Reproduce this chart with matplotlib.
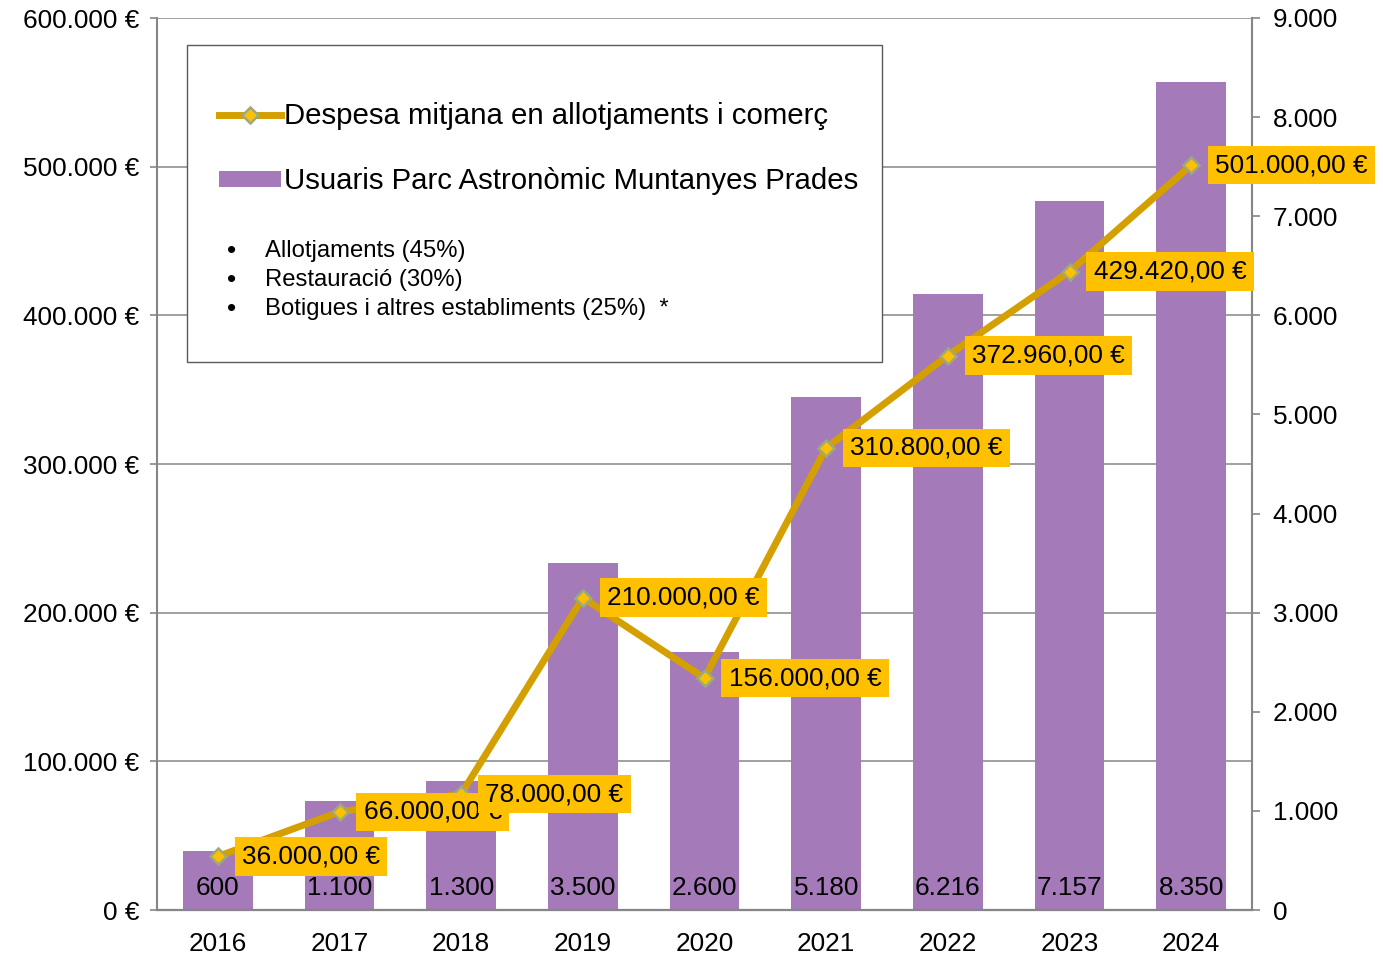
import numpy as np
import matplotlib
matplotlib.use("Agg")
import matplotlib.pyplot as plt
from matplotlib.patches import Rectangle
from matplotlib.ticker import FuncFormatter, MultipleLocator

# ── Dades ─────────────────────────────────────────────
anys = ["2016", "2017", "2018", "2019", "2020", "2021", "2022", "2023", "2024"]
usuaris = [600, 1100, 1300, 3500, 2600, 5180, 6216, 7157, 8350]
despesa = [36000, 66000, 78000, 210000, 156000, 310800, 372960, 429420, 501000]
nom_linia = "Despesa mitjana en allotjaments i comerç"
nom_barres = "Usuaris Parc Astronòmic Muntanyes Prades"
punts = ["Allotjaments (45%)", "Restauració (30%)", "Botigues i altres establiments (25%)  *"]

# ── Estil ─────────────────────────────────────────────
plt.rcParams["font.family"] = ["Liberation Sans", "DejaVu Sans"]
GRIS = "#868686"
LILA = "#A47AB9"
OR_LINIA = "#D4A000"
GROC = "#FFC000"
VORA_MARCA = "#9CAA7C"
MIDA = 18.8


def _milers(v):
    return f"{int(round(v)):,}".replace(",", ".")


def _euros2(v):
    s = f"{v:,.2f}"
    return s.replace(",", "X").replace(".", ",").replace("X", ".") + " €"


W, H = 1383, 959
fig = plt.figure(figsize=(W / 100, H / 100), dpi=100)
fig.patch.set_facecolor("white")

ax = fig.add_axes([157 / W, 49 / H, 1095 / W, 892 / H])
ax2 = ax.twinx()
ax3 = ax.twinx()

x = np.arange(len(anys))

# eix esquerre (euros) amb la graella
ax.set_ylim(0, 600000)
ax.set_xlim(-0.5, len(anys) - 0.5)
ax.yaxis.set_major_locator(MultipleLocator(100000))
ax.yaxis.set_major_formatter(FuncFormatter(lambda v, p: _milers(v) + " €"))
ax.grid(axis="y", color=GRIS, linewidth=1.1)
ax.set_axisbelow(True)
ax.set_xticks(x)
ax.set_xticklabels(anys)
ax.tick_params(axis="x", length=0, pad=16, labelsize=MIDA)
ax.tick_params(axis="y", length=5, width=1.2, color=GRIS, pad=8, labelsize=MIDA)

# barres (eix dret)
ax2.bar(x, usuaris, width=0.57, color=LILA, zorder=2)
ax2.set_ylim(0, 9000)
ax2.yaxis.set_major_locator(MultipleLocator(1000))
ax2.yaxis.set_major_formatter(FuncFormatter(lambda v, p: _milers(v)))
ax2.tick_params(axis="y", length=6, width=1.2, color=GRIS, pad=9, labelsize=MIDA)
for xi, u in zip(x, usuaris):
    ax2.annotate(_milers(u), xy=(xi, 0), xytext=(0, 11), textcoords="offset points",
                 ha="center", va="baseline", fontsize=MIDA, color="black", zorder=3)

# línia (mateixa escala que l'eix esquerre)
ax3.set_ylim(ax.get_ylim())
ax3.set_yticks([])
ax3.plot(x, despesa, color=OR_LINIA, linewidth=5, marker="D", markersize=8.5,
         markerfacecolor=GROC, markeredgecolor=VORA_MARCA, markeredgewidth=1.8,
         label=nom_linia, zorder=4, solid_joinstyle="miter")
for xi, d in zip(x, despesa):
    ax3.annotate(_euros2(d), xy=(xi, d), xytext=(17.5, 0), textcoords="offset points",
                 ha="left", va="center", fontsize=MIDA, color="black", zorder=6,
                 bbox=dict(boxstyle="square,pad=0.28", facecolor=GROC, edgecolor="none"))

for a in (ax, ax2, ax3):
    for s in a.spines.values():
        s.set_color(GRIS)
        s.set_linewidth(1.5)
    a.spines["top"].set_visible(False)
ax.spines["right"].set_visible(False)
ax3.spines["right"].set_visible(False)
ax3.spines["left"].set_visible(False)
ax2.spines["left"].set_visible(False)

# ── Caixa de llegenda ─────────────────────────────────
caixa = Rectangle((187 / W, 1 - 362 / H), 695 / W, 317 / H, transform=fig.transFigure,
                  facecolor="white", edgecolor="#5A5A5A", linewidth=1.0, zorder=10)
fig.patches.append(caixa)

h_linia = ax3.get_lines()[0]
h_barres = ax2.patches[0]
leg = fig.legend([h_linia, h_barres], [nom_linia, nom_barres], loc="upper left",
                 bbox_to_anchor=(219 / W, 1 - 102 / H), frameon=False, fontsize=21.2,
                 handlelength=2.1, handleheight=0.5, handletextpad=0.1, labelspacing=1.27,
                 borderpad=0, borderaxespad=0, numpoints=1)
leg.set_zorder(11)

for i, t in enumerate(punts):
    yy = 1 - (251 + i * 29) / H
    fig.text(232 / W, yy, "•", fontsize=19, ha="center", va="center", zorder=12)
    fig.text(265 / W, yy, t, fontsize=17.2, ha="left", va="center", zorder=12)

fig.savefig("out.png", dpi=100, facecolor="white")
